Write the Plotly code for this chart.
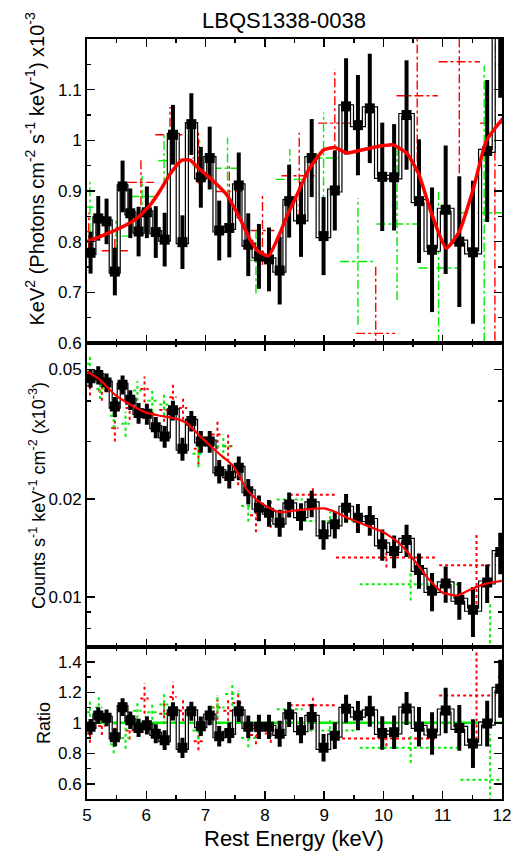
import plotly.graph_objects as go

# ---------------- data ----------------
energy = [5.06, 5.19, 5.33, 5.47, 5.60, 5.73, 5.87, 6.01, 6.16, 6.31,
          6.45, 6.61, 6.76, 6.92, 7.07, 7.23, 7.40, 7.56, 7.72, 7.90,
          8.07, 8.25, 8.41, 8.61, 8.79, 8.99, 9.18, 9.37, 9.57, 9.77,
          9.98, 10.18, 10.39, 10.60, 10.82, 11.05, 11.28, 11.51, 11.75, 11.97]

top_vals = [0.778, 0.846, 0.840, 0.741, 0.909, 0.856, 0.820, 0.858, 0.819, 0.804,
            1.011, 0.799, 1.032, 0.927, 0.965, 0.822, 0.827, 0.911, 0.794, 0.771,
            0.765, 0.743, 0.880, 0.844, 0.965, 0.811, 0.901, 1.067, 1.030, 1.063,
            0.928, 0.927, 1.050, 0.880, 0.784, 0.863, 0.800, 0.779, 0.979, 1.230]
top_errs = [0.041, 0.044, 0.045, 0.047, 0.051, 0.049, 0.049, 0.051, 0.051, 0.053,
            0.059, 0.053, 0.061, 0.060, 0.062, 0.059, 0.058, 0.065, 0.062, 0.064,
            0.063, 0.067, 0.072, 0.074, 0.077, 0.077, 0.079, 0.095, 0.099, 0.108,
            0.107, 0.105, 0.108, 0.122, 0.123, 0.127, 0.129, 0.141, 0.140, 0.146]

mid_vals = [0.0469, 0.0480, 0.0455, 0.0384, 0.0448, 0.0403, 0.0367, 0.0365, 0.0332, 0.0311,
            0.0374, 0.0285, 0.0347, 0.0300, 0.0300, 0.0243, 0.0235, 0.0249, 0.0211, 0.01878,
            0.01813, 0.0169, 0.01922, 0.0177, 0.01936, 0.01556, 0.0167, 0.01878, 0.0175, 0.01722,
            0.0145, 0.01384, 0.01496, 0.0121, 0.01044, 0.0110, 0.0098, 0.00913, 0.01107, 0.01373]
mid_errs = [0.0030, 0.0031, 0.0030, 0.0027, 0.0030, 0.0028, 0.0027, 0.0027, 0.0025, 0.0024,
            0.0026, 0.0023, 0.0025, 0.0023, 0.0023, 0.0020, 0.0020, 0.0021, 0.0019, 0.0017,
            0.0017, 0.0016, 0.0017, 0.0017, 0.0018, 0.0016, 0.0016, 0.0019, 0.0018, 0.0018,
            0.0016, 0.0016, 0.0017, 0.0015, 0.0014, 0.0014, 0.0013, 0.0016, 0.0015, 0.0020]

ratio_vals = [0.974, 1.048, 1.033, 0.905, 1.103, 1.017, 0.967, 0.984, 0.928, 0.886,
              1.076, 0.836, 1.076, 0.978, 1.048, 0.912, 0.934, 1.076, 0.974, 0.974,
              0.974, 0.928, 1.055, 0.952, 1.039, 0.836, 0.916, 1.092, 1.048, 1.076,
              0.934, 0.938, 1.094, 0.974, 0.930, 1.081, 0.967, 0.864, 0.995, 1.224]
ratio_errs = [0.052, 0.055, 0.055, 0.060, 0.058, 0.058, 0.060, 0.060, 0.062, 0.065,
              0.060, 0.066, 0.062, 0.064, 0.064, 0.068, 0.068, 0.070, 0.074, 0.080,
              0.080, 0.085, 0.082, 0.086, 0.085, 0.090, 0.088, 0.092, 0.096, 0.102,
              0.110, 0.110, 0.108, 0.130, 0.140, 0.150, 0.150, 0.160, 0.150, 0.190]

top_model_e = [5.00, 5.28, 5.56, 5.84, 6.07, 6.24, 6.41, 6.60, 6.74, 6.88, 7.08, 7.36,
               7.59, 7.75, 7.90, 8.06, 8.23, 8.37, 8.54, 8.74, 8.99, 9.18, 9.38, 9.63,
               9.91, 10.16, 10.39, 10.59, 10.81, 11.06, 11.28, 11.51, 11.74, 12.02]
top_model_v = [0.800, 0.813, 0.827, 0.846, 0.873, 0.902, 0.935, 0.961, 0.961, 0.945, 0.925, 0.892,
               0.843, 0.804, 0.780, 0.772, 0.810, 0.850, 0.892, 0.942, 0.981, 0.986, 0.975, 0.981,
               0.988, 0.991, 0.975, 0.935, 0.856, 0.787, 0.820, 0.902, 1.000, 1.044]

mid_model_e = [5.00, 5.22, 5.47, 5.78, 6.00, 6.23, 6.51, 6.68, 6.91, 7.19, 7.47, 7.70,
               7.89, 8.00, 8.25, 8.60, 9.00, 9.20, 9.45, 9.70, 10.00, 10.25, 10.50, 10.75,
               11.00, 11.25, 11.50, 11.75, 12.00]
mid_model_v = [0.0492, 0.0464, 0.0418, 0.0385, 0.0368, 0.0360, 0.0352, 0.0342, 0.0311, 0.0279, 0.0252, 0.0213,
               0.0197, 0.0191, 0.0182, 0.0185, 0.0187, 0.0182, 0.0173, 0.0166, 0.0158, 0.0147, 0.0131, 0.0114,
               0.0103, 0.0101, 0.0106, 0.0110, 0.0112]

# red / green spectra drawn as crosses: centre, half width, value, error
top_red_e   = [5.03, 5.47, 5.91, 6.40, 6.88, 7.40, 7.96, 8.58, 9.18, 9.87, 10.57, 11.28, 11.88]
top_red_hw  = [0.05, 0.22, 0.22, 0.25, 0.10, 0.23, 0.20, 0.30, 0.28, 0.33, 0.35, 0.35, 0.25]
top_red_v   = [0.820, 0.782, 0.917, 1.011, 0.965, 0.899, 0.822, 0.930, 1.034, 0.619, 1.088, 1.155, 1.034]
top_red_err = [0.037, 0.030, 0.045, 0.055, 0.050, 0.050, 0.068, 0.085, 0.107, 0.135, 0.130, 0.220, 0.500]

top_grn_e   = [5.05, 5.49, 5.93, 6.30, 6.90, 7.37, 7.85, 8.42, 8.99, 9.57, 10.23, 10.93, 11.70]
top_grn_hw  = [0.06, 0.21, 0.20, 0.10, 0.12, 0.25, 0.12, 0.24, 0.27, 0.30, 0.35, 0.34, 0.42]
top_grn_v   = [0.868, 0.811, 0.889, 0.960, 0.950, 0.945, 0.763, 0.923, 0.965, 0.761, 0.835, 0.748, 0.857]
top_grn_err = [0.050, 0.035, 0.040, 0.050, 0.050, 0.060, 0.065, 0.060, 0.090, 0.125, 0.150, 0.150, 0.290]

mid_red_e   = [5.05, 5.25, 5.47, 5.72, 5.97, 6.30, 6.45, 6.62, 6.88, 7.20, 7.38, 7.55, 7.85, 8.10, 8.81, 10.05, 11.57]
mid_red_hw  = [0.05, 0.06, 0.06, 0.07, 0.07, 0.08, 0.06, 0.07, 0.08, 0.10, 0.08, 0.10, 0.10, 0.10, 0.39, 0.85, 0.63]
mid_red_v   = [0.0445, 0.0430, 0.0330, 0.0380, 0.0435, 0.0375, 0.0410, 0.0380, 0.0285, 0.0315, 0.0290, 0.0245,
               0.0178, 0.0180, 0.0206, 0.0132, 0.01251]
mid_red_err = [0.0030, 0.0030, 0.0030, 0.0030, 0.0040, 0.0030, 0.0040, 0.0030, 0.0030, 0.0030, 0.0030, 0.0025,
               0.0020, 0.0017, 0.0012, 0.0009, 0.0030]

mid_grn_e   = [5.05, 5.22, 5.45, 5.65, 5.85, 6.10, 6.30, 6.88, 7.30, 7.72, 8.42, 9.10, 10.46, 11.80]
mid_grn_hw  = [0.05, 0.06, 0.06, 0.07, 0.07, 0.08, 0.08, 0.10, 0.12, 0.12, 0.22, 0.45, 0.86, 0.50]
mid_grn_v   = [0.0520, 0.0435, 0.0360, 0.0340, 0.0430, 0.0400, 0.0390, 0.0275, 0.0290, 0.0190, 0.0199, 0.0171,
               0.01094, 0.0066]
mid_grn_err = [0.0030, 0.0030, 0.0030, 0.0030, 0.0030, 0.0030, 0.0030, 0.0025, 0.0025, 0.0020, 0.0012, 0.0012,
               0.0012, 0.0031]

rat_red_e   = mid_red_e
rat_red_hw  = mid_red_hw
rat_red_v   = [0.93, 0.98, 0.93, 0.95, 1.16, 1.06, 1.17, 1.08, 0.88, 1.10, 1.08, 1.13, 0.92, 0.93, 1.116, 0.897, 1.18]
rat_red_err = [0.06, 0.06, 0.06, 0.06, 0.10, 0.07, 0.10, 0.07, 0.06, 0.08, 0.07, 0.08, 0.06, 0.06, 0.05, 0.05, 0.29]

rat_grn_e   = [5.05, 5.20, 5.45, 5.65, 5.85, 6.10, 6.30, 6.88, 7.20, 7.45, 7.72, 8.42, 9.10, 10.46, 11.80]
rat_grn_hw  = [0.05, 0.06, 0.06, 0.07, 0.07, 0.08, 0.08, 0.10, 0.12, 0.12, 0.12, 0.22, 0.45, 0.86, 0.50]
rat_grn_v   = [1.07, 1.10, 0.86, 0.90, 1.08, 1.07, 1.12, 0.95, 1.10, 1.19, 0.90, 1.09, 0.95, 0.836, 0.627]
rat_grn_err = [0.07, 0.07, 0.06, 0.07, 0.05, 0.05, 0.07, 0.06, 0.07, 0.08, 0.06, 0.06, 0.07, 0.10, 0.30]

x_ticks = [5, 6, 7, 8, 9, 10, 11, 12]
top_ticks = [0.6, 0.7, 0.8, 0.9, 1.0, 1.1]
top_ticktext = ["0.6", "0.7", "0.8", "0.9", "1", "1.1"]
mid_ticks = [0.01, 0.02, 0.05]
mid_ticktext = ["0.01", "0.02", "0.05"]
mid_minor = [0.007, 0.008, 0.009, 0.03, 0.04, 0.06]
rat_ticks = [0.6, 0.8, 1.0, 1.2, 1.4]
rat_ticktext = ["0.6", "0.8", "1", "1.2", "1.4"]

RED = "#ff0000"
GRN = "#00ee00"
FONT = "Liberation Sans, Arial, Helvetica, sans-serif"


def cross_xy(e, hw, v, err):
    xs, ys = [], []
    for ei, hi, vi, ri in zip(e, hw, v, err):
        xs += [ei - hi, ei + hi, None, ei, ei, None]
        ys += [vi, vi, None, vi - ri, vi + ri, None]
    return xs, ys


fig = go.Figure()


def add_panel(xa, ya, vals, errs, red, grn, dash, model_e, model_v, model_w, model_col):
    for (e, hw, v, er), col in ((red, RED), (grn, GRN)):
        xs, ys = cross_xy(e, hw, v, er)
        fig.add_trace(go.Scatter(x=xs, y=ys, mode="lines", xaxis=xa, yaxis=ya,
                                 line=dict(color=col, width=1.4 if dash != "dot" else 2,
                                           dash=dash), showlegend=False, hoverinfo="skip"))
    if model_e is not None and model_col == GRN:
        fig.add_trace(go.Scatter(x=model_e, y=model_v, mode="lines", xaxis=xa, yaxis=ya,
                                 line=dict(color=model_col, width=model_w), showlegend=False))
    # step outline (double line look)
    fig.add_trace(go.Scatter(x=energy, y=vals, mode="lines", xaxis=xa, yaxis=ya,
                             line=dict(color="black", width=4.2, shape="hvh"), showlegend=False))
    fig.add_trace(go.Scatter(x=energy, y=vals, mode="lines", xaxis=xa, yaxis=ya,
                             line=dict(color="white", width=1.8, shape="hvh"), showlegend=False))
    fig.add_trace(go.Scatter(x=energy, y=vals, mode="markers", xaxis=xa, yaxis=ya,
                             marker=dict(symbol="square", size=10, color="black"),
                             error_y=dict(type="data", array=errs, visible=True,
                                          thickness=4, width=0, color="black"),
                             showlegend=False))
    if model_e is not None and model_col != GRN:
        fig.add_trace(go.Scatter(x=model_e, y=model_v, mode="lines", xaxis=xa, yaxis=ya,
                                 line=dict(color=model_col, width=model_w, shape="spline",
                                           smoothing=0.5), showlegend=False))


add_panel("x", "y", top_vals, top_errs,
          (top_red_e, top_red_hw, top_red_v, top_red_err),
          (top_grn_e, top_grn_hw, top_grn_v, top_grn_err),
          "dashdot", top_model_e, top_model_v, 3.5, RED)
add_panel("x2", "y2", mid_vals, mid_errs,
          (mid_red_e, mid_red_hw, mid_red_v, mid_red_err),
          (mid_grn_e, mid_grn_hw, mid_grn_v, mid_grn_err),
          "dot", mid_model_e, mid_model_v, 2.2, RED)
add_panel("x3", "y3", ratio_vals, ratio_errs,
          (rat_red_e, rat_red_hw, rat_red_v, rat_red_err),
          (rat_grn_e, rat_grn_hw, rat_grn_v, rat_grn_err),
          "dot", [5, 12], [1, 1], 2.5, GRN)

axis_common = dict(showline=True, linecolor="black", linewidth=2, mirror="allticks",
                   ticks="inside", ticklen=8, tickwidth=1.5, tickcolor="black",
                   showgrid=False, zeroline=False, automargin=False,
                   ticklabeloverflow="allow",
                   tickfont=dict(family=FONT, size=17, color="black"))

xcommon = dict(axis_common, range=[5, 12], tickvals=x_ticks,
               minor=dict(dtick=0.5, tick0=5, ticks="inside", ticklen=4, tickwidth=1.5,
                          tickcolor="black", showgrid=False))

d1 = 152.3 / 760
d2 = (799 - 343) / 760

fig.update_layout(
    width=511, height=866,
    margin=dict(l=87, r=9, t=39, b=67, autoexpand=False),
    paper_bgcolor="white", plot_bgcolor="white",
    font=dict(family=FONT, color="black"),
    hovermode=False,
    xaxis=dict(xcommon, anchor="y", showticklabels=False),
    xaxis2=dict(xcommon, anchor="y2", matches="x", showticklabels=False),
    xaxis3=dict(xcommon, anchor="y3", matches="x", showticklabels=True),
    yaxis=dict(axis_common, domain=[d2, 1], range=[0.6, 1.2], tickvals=top_ticks,
               ticktext=top_ticktext, anchor="x",
               minor=dict(dtick=0.05, tick0=0.6, ticks="inside", ticklen=4, tickwidth=1.5,
                          tickcolor="black", showgrid=False)),
    yaxis2=dict(axis_common, domain=[d1, d2], type="log", range=[-2.153, -1.2204],
                tickvals=mid_ticks, ticktext=mid_ticktext, anchor="x2",
                minor=dict(tickvals=mid_minor, ticks="inside", ticklen=4, tickwidth=1.5,
                           tickcolor="black", showgrid=False)),
    yaxis3=dict(axis_common, domain=[0, d1], range=[0.5, 1.5], tickvals=rat_ticks,
                ticktext=rat_ticktext, anchor="x3",
                minor=dict(dtick=0.1, tick0=0.5, ticks="inside", ticklen=4, tickwidth=1.5,
                           tickcolor="black", showgrid=False)),
)

ann_font = dict(family=FONT, size=18, color="black")
fig.add_annotation(text="LBQS1338-0038", xref="paper", yref="paper", x=0.4747, y=1.025,
                   xanchor="center", yanchor="middle", showarrow=False,
                   font=dict(family=FONT, size=22, color="black"))
fig.add_annotation(text="KeV<sup>2</sup> (Photons cm<sup>-2</sup> s<sup>-1</sup> keV<sup>-1</sup>) x10<sup>-3</sup>",
                   xref="paper", yref="paper", x=-0.1253, y=0.8296, textangle=-90,
                   xanchor="center", yanchor="middle", showarrow=False,
                   font=dict(family=FONT, size=20, color="black"))
fig.add_annotation(text="Counts s<sup>-1</sup> keV<sup>-1</sup> cm<sup>-2</sup> (x10<sup>-3</sup>)",
                   xref="paper", yref="paper", x=-0.1205, y=0.40, textangle=-90,
                   xanchor="center", yanchor="middle", showarrow=False, font=ann_font)
fig.add_annotation(text="Ratio", xref="paper", yref="paper", x=-0.1036, y=0.10, textangle=-90,
                   xanchor="center", yanchor="middle", showarrow=False, font=ann_font)
fig.add_annotation(text="Rest Energy (keV)", xref="paper", yref="paper", x=0.4988, y=-0.0526,
                   xanchor="center", yanchor="middle", showarrow=False,
                   font=dict(family=FONT, size=22, color="black"))

fig.write_html("out.html", config={"displayModeBar": False, "staticPlot": True},
               post_script="document.body.style.margin='0';document.body.style.overflow='hidden';")
